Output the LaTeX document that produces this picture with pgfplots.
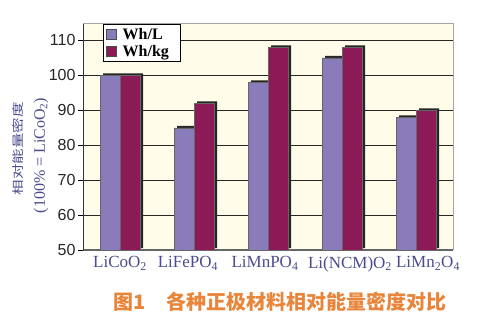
\documentclass[border=0pt]{standalone}
\usepackage{pgfplots}
\pgfplotsset{compat=1.18}
\usepackage{fontspec}
\setmainfont{Liberation Serif}
\newfontfamily\sans{Liberation Sans}
\newfontfamily\cjk{Noto Sans CJK SC}
\definecolor{wl}{HTML}{8A7BBA}
\definecolor{wk}{HTML}{8C1A56}
\definecolor{bg}{HTML}{FFFDEA}
\definecolor{lab}{HTML}{4B4B8E}
\definecolor{cap}{HTML}{E8853A}
\pgfplotstableread{
x wl wk
0 100 100
1 85 92
2 98 108
3 105 108
4 88 90
}\datatable
\begin{document}
\begin{tikzpicture}
\begin{axis}[name=ax,
  scale only axis, width=370pt, height=227pt,
  xmin=-0.5, xmax=4.5, ymin=50, ymax=115,
  ybar, bar width=20pt,
  xtick={0,1,2,3,4},
  xticklabels={LiCoO\textsubscript{2},
    LiFePO\textsubscript{4}\hspace*{12pt},
    LiMnPO\textsubscript{4}\hspace*{6pt},
    \hspace*{16pt}Li(NCM)O\textsubscript{2},
    \hspace*{24pt}LiMn\textsubscript{2}O\textsubscript{4}},
  x tick style={draw=none},
  minor xtick={-0.5,0.5,1.5,2.5,3.5,4.5},
  minor x tick style={black, thick},
  minor tick length=4pt,
  x tick label style={font=\fontsize{17}{17}\selectfont, text=lab, yshift=2pt},
  ytick={50,60,...,110},
  y tick label style={font=\sans\fontsize{16}{16}\selectfont, text=black!85, xshift=1pt},
  y tick style={black, thick},
  major tick length=5pt,
  tick align=outside,
  /pgf/number format/assume math mode=true,
  ymajorgrids, grid style={black!85, line width=0.7pt},
  axis background/.style={fill=bg},
  axis line style={draw=black!35},
  separate axis lines,
  x axis line style={draw=black!60, line width=2.5pt},
  y axis line style={draw=black!80, line width=0.8pt},
  axis x line*=bottom, axis y line*=left,
  legend cell align=left,
  legend style={at={(0.054,0.995)}, anchor=north west, draw=black, line width=0.6pt, fill=white,
     font=\bfseries\fontsize{16}{17}\selectfont, row sep=0pt, inner xsep=3pt, inner ysep=2pt},
  legend image code/.code={\draw[#1, draw=black!70, line width=0.5pt] (0pt,-4.5pt) rectangle (10pt,5.5pt);
     \path (14pt,0pt);},
]
\addplot[fill=black!85, draw=none, bar shift=-10pt, xshift=3pt, yshift=2pt, forget plot] table[x=x,y=wl]{\datatable};
\addplot[fill=black!85, draw=none, bar shift=10pt, xshift=3pt, yshift=2pt, forget plot] table[x=x,y=wk]{\datatable};
\addplot[fill=wl, draw=black!60, line width=0.4pt, bar shift=-10pt] table[x=x,y=wl]{\datatable};
\addplot[fill=wk, draw=black!60, line width=0.4pt, bar shift=10pt] table[x=x,y=wk]{\datatable};
\legend{Wh/L, Wh/kg\hspace*{6pt}}
\end{axis}
\draw[black!35, line width=0.8pt] (ax.north west) -- (ax.north east) -- (ax.south east);
\node[rotate=90, text=lab, font=\cjk\fontsize{15.5}{15.5}\selectfont, inner sep=0pt]
  at ([xshift=-65pt,yshift=-12pt]ax.west) {\scalebox{1}[0.75]{相对能量密度}};
\node[rotate=90, text=lab, font=\fontsize{16}{16}\selectfont, inner sep=0pt]
  at ([xshift=-42pt,yshift=-19pt]ax.west) {(100\% = LiCoO\textsubscript{2})};
\node[text=cap, font=\cjk\bfseries\fontsize{20}{20}\selectfont] at ([xshift=197pt,yshift=-52pt]ax.south west) {图1\quad 各种正极材料相对能量密度对比};
\pgfresetboundingbox
\path ([xshift=-83pt,yshift=-77pt]ax.south west) rectangle ([xshift=28pt,yshift=23pt]ax.north east);
\end{tikzpicture}
\end{document}
